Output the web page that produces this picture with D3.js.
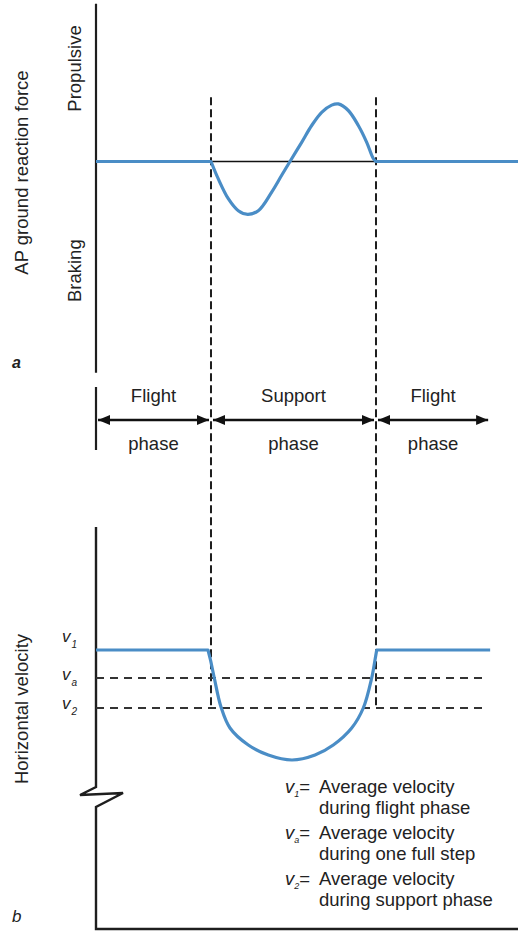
<!DOCTYPE html>
<html><head><meta charset="utf-8">
<script src="https://cdn.jsdelivr.net/npm/d3@7/dist/d3.min.js"></script>
<style>
html,body{margin:0;padding:0;background:#fff;}
svg{display:block;font-family:"Liberation Sans",Arial,Helvetica,sans-serif;}
</style></head>
<body><svg id="c" width="518" height="934"></svg>
<script>
// ---------- DATA ----------
// time in arbitrary units (0..100); touchdown and toe-off
const touchdown = 27.25, toeOff = 66.35, flightEnd = 93.4, refLineEnd = 92.2, timeEnd = 100;
// AP ground reaction force during support (relative units; + propulsive, - braking)
const forceTime  = [27.25, 28.98, 31.35, 33.72, 35.95, 38.46, 41.63, 44.0, 45.97, 48.74, 51.11, 53.48, 55.85, 57.42, 59.79, 62.16, 64.15, 65.71, 66.35];
const forceValue = [0, -0.29, -0.62, -0.82, -0.88, -0.82, -0.51, -0.23, 0, 0.32, 0.60, 0.82, 0.94, 0.96, 0.85, 0.60, 0.32, 0.05, 0];
// horizontal velocity (m/s, illustrative)
const v1 = 10.0, va = 9.72, v2 = 9.42;
const velTime  = [26.54, 27.13, 28.03, 29.62, 31.75, 36.09, 40.83, 46.45, 51.9, 56.23, 60.59, 63.34, 65.33, 66.11, 66.52];
const velValue = [10.0, 9.90, 9.72, 9.43, 9.22, 9.05, 8.95, 8.90, 8.95, 9.05, 9.22, 9.42, 9.72, 9.90, 10.0];
const phaseNames = ["Flight", "Support", "Flight"];
const phaseBounds = [0, touchdown, toeOff, flightEnd];
const forceLabels = ["Propulsive", "Braking"];
const forceLabelValues = [1.55, -1.82];
const legendSymbols = ["1", "a", "2"];
const legendLines = [["Average velocity", "during flight phase"],
                     ["Average velocity", "during one full step"],
                     ["Average velocity", "during support phase"]];
// axis extents (data units)
const forceAxisExtent = [2.63, -3.52];
const velAxisTop = 11.23, velAxisBreak = 8.63, velAxisResume = 8.43, velAxisBottom = 7.21;

// ---------- SCALES ----------
const x  = d3.scaleLinear().domain([0, 100]).range([96, 518]);
const yF = d3.scaleLinear().domain([-1, 1]).range([221.5, 101.5]);
const yV = d3.scaleLinear().domain([8.5, 10.5]).range([800, 600]);

const svg = d3.select("#c");
const BLUE = "#4a8dc6", INK = "#1e1e1e", TXT = "#222";
const smooth = d3.curveCatmullRom.alpha(0.5);

// ---------- PANEL A ----------
svg.append("line").attr("x1", x(0)).attr("x2", x(0))
  .attr("y1", yF(forceAxisExtent[0])).attr("y2", yF(forceAxisExtent[1]))
  .attr("stroke", INK).attr("stroke-width", 2.2);
svg.append("line").attr("x1", x(touchdown)).attr("x2", x(toeOff))
  .attr("y1", yF(0)).attr("y2", yF(0)).attr("stroke", "#111").attr("stroke-width", 1.6);
[touchdown, toeOff].forEach(t => {
  svg.append("line").attr("x1", x(t)).attr("x2", x(t))
    .attr("y1", yF(1.07)).attr("y2", yV(v2))
    .attr("stroke", INK).attr("stroke-width", 2).attr("stroke-dasharray", "8,4");
});
const fLine = d3.line().x(d => x(d[0])).y(d => yF(d[1]));
const fSupport = forceTime.map((t, i) => [t, forceValue[i]]);
const fPath = fLine([[0, 0], [touchdown, 0]]) +
  d3.line().x(d => x(d[0])).y(d => yF(d[1])).curve(smooth)(fSupport).replace(/^M/, "L") +
  fLine([[toeOff, 0], [timeEnd, 0]]).replace(/^M/, "L");
svg.append("path").attr("d", fPath)
  .attr("fill", "none").attr("stroke", BLUE).attr("stroke-width", 3.2).attr("stroke-linejoin", "round");

svg.append("text").attr("transform", `translate(28,${yF(0) + 11}) rotate(-90)`)
  .attr("text-anchor", "middle").attr("font-size", 18.5).attr("fill", TXT)
  .text("AP ground reaction force");
forceLabels.forEach((l, i) => {
  svg.append("text").attr("transform", `translate(81,${yF(forceLabelValues[i])}) rotate(-90)`)
    .attr("text-anchor", "middle").attr("font-size", 18.5).attr("fill", TXT).text(l);
});
svg.append("text").attr("x", 12).attr("y", 368).attr("font-size", 16)
  .attr("font-style", "italic").attr("font-weight", "bold").attr("fill", TXT).text("a");

// ---------- PHASES ----------
const defs = svg.append("defs");
defs.append("marker").attr("id", "ah").attr("viewBox", "0 0 12 10")
  .attr("refX", 12).attr("refY", 5).attr("markerWidth", 12).attr("markerHeight", 10)
  .attr("markerUnits", "userSpaceOnUse").attr("orient", "auto-start-reverse")
  .append("path").attr("d", "M0,0L12,5L0,10Z").attr("fill", "#111");
const arrowY = 420;
svg.append("line").attr("x1", x(0)).attr("x2", x(0)).attr("y1", 387).attr("y2", 450)
  .attr("stroke", INK).attr("stroke-width", 2.2);
phaseNames.forEach((p, i) => {
  const a = phaseBounds[i], b = phaseBounds[i + 1];
  svg.append("line").attr("x1", x(a) + 2).attr("x2", x(b) - 2)
    .attr("y1", arrowY).attr("y2", arrowY)
    .attr("stroke", "#111").attr("stroke-width", 2.5)
    .attr("marker-start", "url(#ah)").attr("marker-end", "url(#ah)");
  const cx = x((a + b) / 2);
  svg.append("text").attr("x", cx).attr("y", 402).attr("text-anchor", "middle")
    .attr("font-size", 18.5).attr("fill", TXT).text(p);
  svg.append("text").attr("x", cx).attr("y", 450).attr("text-anchor", "middle")
    .attr("font-size", 18.5).attr("fill", TXT).text("phase");
});

// ---------- PANEL B ----------
const x0 = x(0);
svg.append("path")
  .attr("d", `M${x0},${yV(velAxisTop)}V${yV(velAxisBreak)}L${x0 - 16},${yV(velAxisBreak) + 8}L${x0 + 27},${yV(velAxisBreak) + 6}L${x0},${yV(velAxisResume)}V${yV(velAxisBottom)}H${x(100)}`)
  .attr("fill", "none").attr("stroke", INK).attr("stroke-width", 2.4).attr("stroke-linejoin", "miter");
[va, v2].forEach(v => {
  svg.append("line").attr("x1", x0).attr("x2", x(refLineEnd))
    .attr("y1", yV(v)).attr("y2", yV(v))
    .attr("stroke", "#333").attr("stroke-width", 2).attr("stroke-dasharray", "8,6");
});
const vLine = d3.line().x(d => x(d[0])).y(d => yV(d[1]));
const vSupport = velTime.map((t, i) => [t, velValue[i]]);
const vPath = vLine([[0, v1], [velTime[0], v1]]) +
  d3.line().x(d => x(d[0])).y(d => yV(d[1])).curve(smooth)(vSupport).replace(/^M/, "L") +
  vLine([[velTime[velTime.length - 1], v1], [flightEnd, v1]]).replace(/^M/, "L");
svg.append("path").attr("d", vPath)
  .attr("fill", "none").attr("stroke", BLUE).attr("stroke-width", 3.2).attr("stroke-linejoin", "round");

const vVals = [v1, va, v2], vDy = [-8, 2, 1];
vVals.forEach((v, i) => {
  const t = svg.append("text").attr("x", 62).attr("y", yV(v) + vDy[i])
    .attr("font-size", 17).attr("font-style", "italic").attr("fill", TXT);
  t.append("tspan").text("v");
  t.append("tspan").attr("font-size", 10).attr("dy", 6).attr("dx", 1).text(legendSymbols[i]);
});
svg.append("text").attr("transform", `translate(28,${yV(v2) + 1}) rotate(-90)`)
  .attr("text-anchor", "middle").attr("font-size", 18.5).attr("fill", TXT)
  .text("Horizontal velocity");
svg.append("text").attr("x", 12).attr("y", 922).attr("font-size", 17)
  .attr("font-style", "italic").attr("fill", TXT).text("b");

legendLines.forEach((ls, i) => {
  const by = 793 + i * 46;
  const t = svg.append("text").attr("x", 285).attr("y", by).attr("font-size", 18.5).attr("fill", TXT);
  t.append("tspan").attr("font-style", "italic").text("v");
  t.append("tspan").attr("font-size", 9).attr("font-style", "italic").attr("dy", 4).text(legendSymbols[i]);
  t.append("tspan").attr("dy", -4).text("=");
  svg.append("text").attr("x", 319).attr("y", by).attr("font-size", 18.5).attr("fill", TXT).text(ls[0]);
  svg.append("text").attr("x", 319).attr("y", by + 21).attr("font-size", 18.5).attr("fill", TXT).text(ls[1]);
});
</script></body></html>
